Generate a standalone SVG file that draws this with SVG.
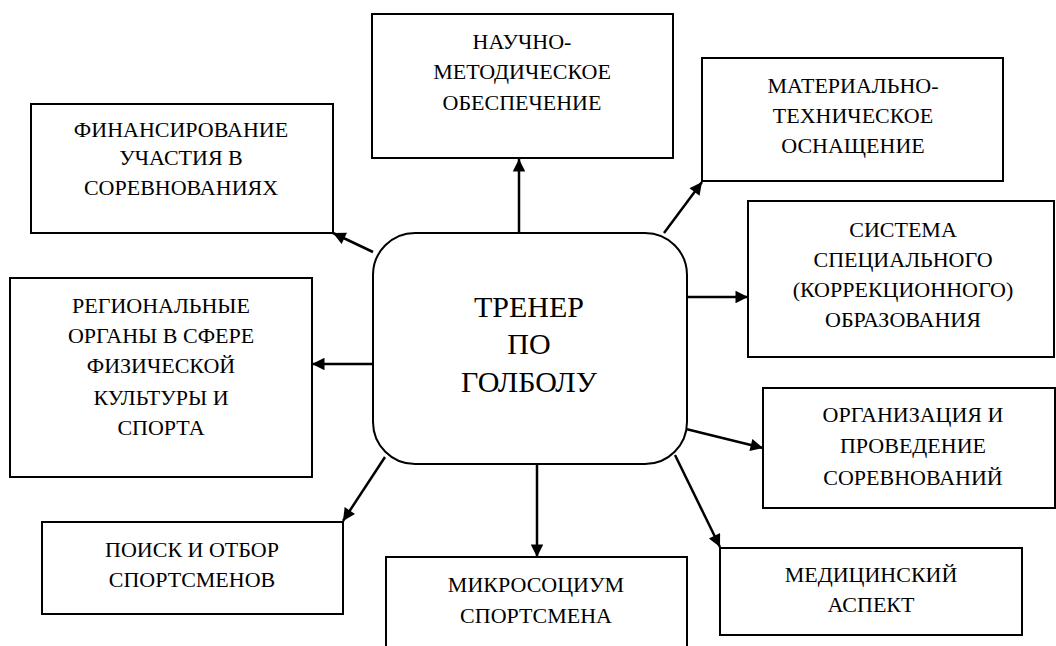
<svg xmlns="http://www.w3.org/2000/svg" width="1056" height="646" viewBox="0 0 1056 646">
<style>
.box{fill:#fff;stroke:#000;stroke-width:2}
.ln{stroke:#000;stroke-width:2.5;fill:none;marker-end:url(#ah)}
.t{font-family:'Liberation Serif','Noto Serif CJK SC','DejaVu Serif',serif;font-size:22px;fill:#000;text-anchor:middle}
.c{font-family:'Liberation Serif','Noto Serif CJK SC','DejaVu Serif',serif;font-size:30px;fill:#000;text-anchor:middle}
</style>
<defs>
<marker id="ah" viewBox="0 0 10 10" refX="10" refY="5" markerWidth="6" markerHeight="5" markerUnits="strokeWidth" orient="auto">
<path d="M0,0 L10,5 L0,10 Z" fill="#000"/>
</marker>
</defs>
<rect width="1056" height="646" fill="#fff"/>
<g id="connectors">
<line class="ln" x1="519" y1="233" x2="519" y2="159"/>
<line class="ln" x1="373" y1="252" x2="333" y2="233"/>
<line class="ln" x1="664" y1="233" x2="702" y2="182"/>
<line class="ln" x1="687" y1="297" x2="748" y2="297"/>
<line class="ln" x1="373" y1="364" x2="312" y2="364"/>
<line class="ln" x1="686" y1="429" x2="763" y2="448"/>
<line class="ln" x1="675" y1="455" x2="720" y2="547"/>
<line class="ln" x1="537" y1="464" x2="537" y2="557"/>
<line class="ln" x1="385" y1="457" x2="343" y2="521"/>
</g>
<g id="center">
<rect class="box" x="373" y="233" width="314" height="231" rx="42" ry="42"/>
<text class="c" x="529" y="317">ТРЕНЕР</text>
<text class="c" x="529" y="354">ПО</text>
<text class="c" x="529" y="392">ГОЛБОЛУ</text>
</g>
<g id="n-nauchno">
<rect class="box" x="372" y="14" width="301" height="144"/>
<text class="t" x="522" y="49">НАУЧНО-</text>
<text class="t" x="522" y="79">МЕТОДИЧЕСКОЕ</text>
<text class="t" x="522" y="110">ОБЕСПЕЧЕНИЕ</text>
</g>
<g id="n-finans">
<rect class="box" x="31" y="104" width="302" height="129"/>
<text class="t" x="181" y="137">ФИНАНСИРОВАНИЕ</text>
<text class="t" x="181" y="165">УЧАСТИЯ В</text>
<text class="t" x="181" y="195">СОРЕВНОВАНИЯХ</text>
</g>
<g id="n-material">
<rect class="box" x="702" y="58" width="301" height="123"/>
<text class="t" x="853" y="93">МАТЕРИАЛЬНО-</text>
<text class="t" x="853" y="123">ТЕХНИЧЕСКОЕ</text>
<text class="t" x="853" y="153">ОСНАЩЕНИЕ</text>
</g>
<g id="n-sistema">
<rect class="box" x="748" y="201" width="306" height="156"/>
<text class="t" x="903" y="237">СИСТЕМА</text>
<text class="t" x="903" y="267">СПЕЦИАЛЬНОГО</text>
<text class="t" x="903" y="297">(КОРРЕКЦИОННОГО)</text>
<text class="t" x="903" y="327">ОБРАЗОВАНИЯ</text>
</g>
<g id="n-region">
<rect class="box" x="10" y="278" width="302" height="199"/>
<text class="t" x="161" y="313">РЕГИОНАЛЬНЫЕ</text>
<text class="t" x="161" y="343">ОРГАНЫ В СФЕРЕ</text>
<text class="t" x="161" y="373">ФИЗИЧЕСКОЙ</text>
<text class="t" x="161" y="405">КУЛЬТУРЫ И</text>
<text class="t" x="161" y="435">СПОРТА</text>
</g>
<g id="n-organiz">
<rect class="box" x="763" y="388" width="292" height="120"/>
<text class="t" x="913" y="422">ОРГАНИЗАЦИЯ И</text>
<text class="t" x="913" y="453">ПРОВЕДЕНИЕ</text>
<text class="t" x="913" y="485">СОРЕВНОВАНИЙ</text>
</g>
<g id="n-poisk">
<rect class="box" x="42" y="522" width="301" height="92"/>
<text class="t" x="192" y="557">ПОИСК И ОТБОР</text>
<text class="t" x="192" y="587">СПОРТСМЕНОВ</text>
</g>
<g id="n-mikro">
<rect class="box" x="386" y="557" width="301" height="110"/>
<text class="t" x="536" y="592">МИКРОСОЦИУМ</text>
<text class="t" x="536" y="623">СПОРТСМЕНА</text>
</g>
<g id="n-medic">
<rect class="box" x="720" y="548" width="302" height="87"/>
<text class="t" x="871" y="582">МЕДИЦИНСКИЙ</text>
<text class="t" x="871" y="612">АСПЕКТ</text>
</g>
</svg>
